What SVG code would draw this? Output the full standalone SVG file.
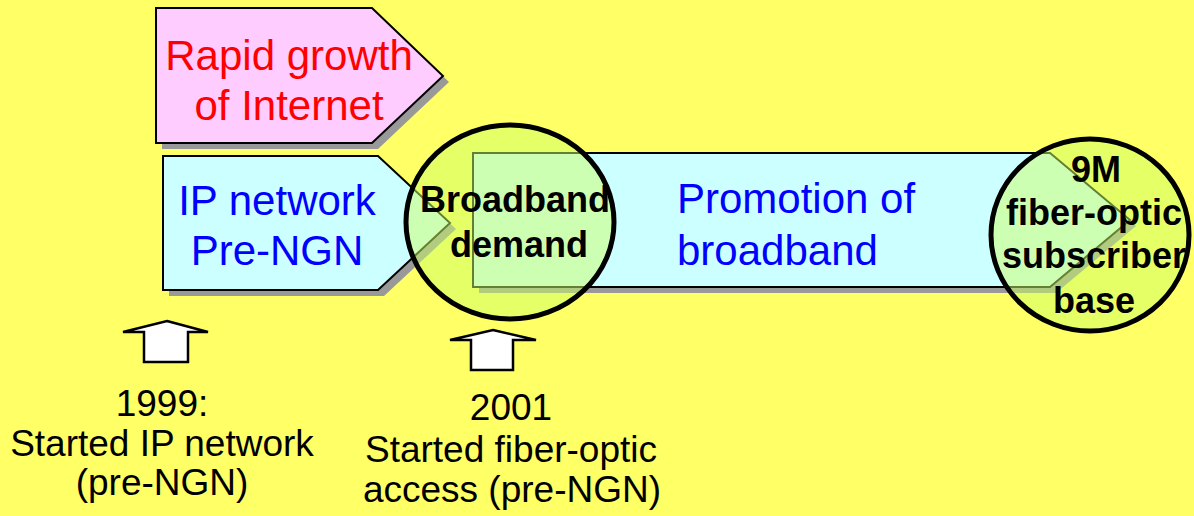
<svg xmlns="http://www.w3.org/2000/svg" width="1194" height="516" viewBox="0 0 1194 516">
<style>
.sh{fill:#999999}
.box{stroke:#000;stroke-width:2}
.t{font-family:"Liberation Sans",Arial,sans-serif;font-size:42px}
.b{font-family:"Liberation Sans",Arial,sans-serif;font-size:36px;font-weight:bold;fill:#000}
.s{font-family:"Liberation Sans",Arial,sans-serif;font-size:37px;fill:#000}
.circ{fill:#ccff66;fill-opacity:0.5;stroke:#000;stroke-width:5}
.arr{fill:#fff;stroke:#000;stroke-width:2.5;stroke-linejoin:miter}
</style>
<rect x="0" y="0" width="1194" height="516" fill="#ffff66"/>
<g id="rapid-growth">
<polygon class="sh" points="162,14 378,14 449,82 378,149 162,149"/>
<polygon class="box" fill="#ffccff" points="156,8 372,8 443,76 372,143 156,143"/>
<text class="t" fill="#ff0000" text-anchor="middle" x="289" y="70">Rapid growth</text>
<text class="t" fill="#ff0000" text-anchor="middle" x="289" y="120">of Internet</text>
</g>
<g id="ip-network">
<polygon class="sh" points="169,162 384,162 456,229 384,296 169,296"/>
<polygon class="box" fill="#ccffff" points="163,156 378,156 450,223 378,290 163,290"/>
<text class="t" fill="#0000ff" text-anchor="middle" x="277" y="215">IP network</text>
<text class="t" fill="#0000ff" text-anchor="middle" x="277" y="265">Pre-NGN</text>
</g>
<g id="promotion">
<polygon class="sh" points="479,159 1056,159 1136,226 1056,293 479,293"/>
<polygon class="box" fill="#ccffff" points="473,153 1050,153 1130,220 1050,287 473,287"/>
<text class="t" fill="#0000ff" x="677" y="213">Promotion of</text>
<text class="t" fill="#0000ff" x="677" y="265">broadband</text>
</g>
<g id="broadband-demand">
<ellipse class="circ" cx="510" cy="222" rx="104" ry="97"/>
<text class="b" text-anchor="middle" x="515" y="212">Broadband</text>
<text class="b" text-anchor="middle" x="519" y="257">demand</text>
</g>
<g id="subscriber-base">
<ellipse class="circ" cx="1090" cy="235" rx="99" ry="96"/>
<text class="b" text-anchor="middle" x="1096" y="182">9M</text>
<text class="b" text-anchor="middle" x="1094" y="225">fiber-optic</text>
<text class="b" text-anchor="middle" x="1094" y="268">subscriber</text>
<text class="b" text-anchor="middle" x="1094" y="313">base</text>
</g>
<g id="connectors">
<polygon class="arr" points="167,321 208,332 188,332 188,362 144,362 144,332 123,332"/>
<polygon class="arr" points="493,330 536,340 513,340 513,370 471,370 471,340 450,340"/>
</g>
<g id="label-1999">
<text class="s" text-anchor="middle" x="162" y="416">1999:</text>
<text class="s" text-anchor="middle" x="162" y="456">Started IP network</text>
<text class="s" text-anchor="middle" x="162" y="495">(pre-NGN)</text>
</g>
<g id="label-2001">
<text class="s" text-anchor="middle" x="511" y="420">2001</text>
<text class="s" text-anchor="middle" x="511" y="462">Started fiber-optic</text>
<text class="s" text-anchor="middle" x="512" y="502">access (pre-NGN)</text>
</g>
</svg>
